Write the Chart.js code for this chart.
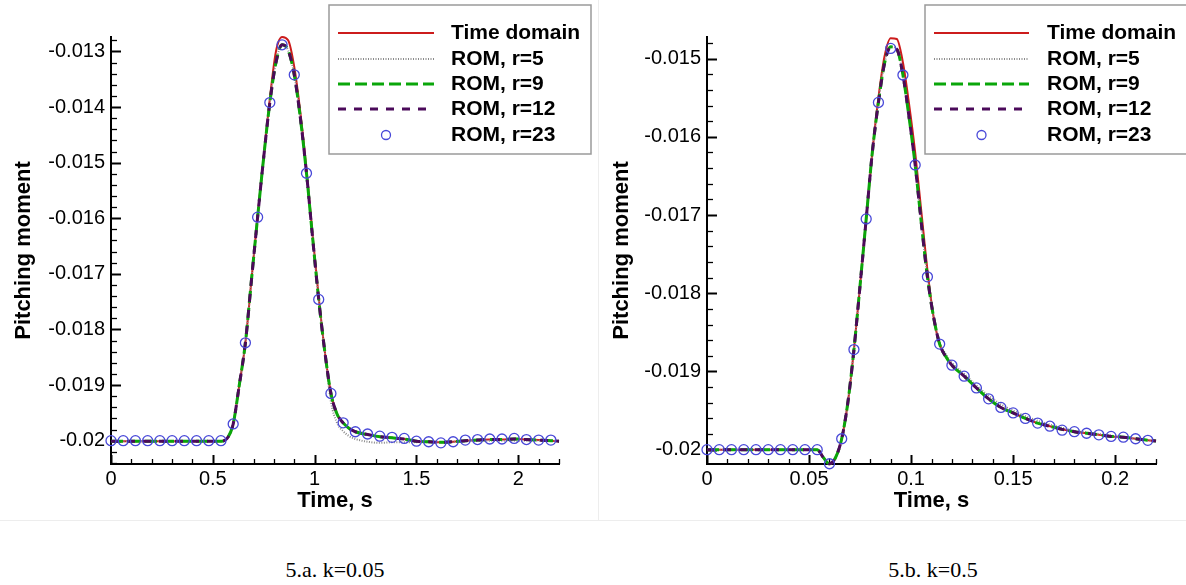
<!DOCTYPE html>
<html>
<head>
<meta charset="utf-8">
<script src="https://cdn.jsdelivr.net/npm/chart.js@4.4.1/dist/chart.umd.min.js"></script>
<style>
    html, body { margin: 0; padding: 0; background: #fff; }
    #page { position: relative; width: 1186px; height: 585px; overflow: hidden; }
    .panel { position: absolute; top: 0; height: 520px; }
    #pa { left: 0; width: 598px; }
    #pb { left: 598px; width: 588px; }
    .sep-v { position: absolute; left: 598px; top: 0; width: 1px; height: 521px; background: #ededed; }
    .sep-h { position: absolute; left: 0; top: 520px; width: 1186px; height: 1px; background: #ededed; }
    .cap { position: absolute; top: 559px; line-height: 22px; font-family: "Liberation Serif", "Times New Roman", serif;
           font-size: 22px; color: #000; transform: translateX(-50%); white-space: nowrap; }
</style>
</head>
<body>
<div id="page">
    <div class="panel" id="pa"><canvas id="chartA" width="598" height="520"></canvas></div>
    <div class="panel" id="pb"><canvas id="chartB" width="588" height="520"></canvas></div>
    <div class="sep-v"></div>
    <div class="sep-h"></div>
    <div class="cap" style="left:335px">5.a. k=0.05</div>
    <div class="cap" style="left:933px">5.b. k=0.5</div>
</div>
<script>
/* ---------- data ---------- */
const SERIES_LABELS = ["Time domain", "ROM, r=5", "ROM, r=9", "ROM, r=12", "ROM, r=23"];

// 5.a  k=0.05
const A_X_TICKS = [0, 0.5, 1, 1.5, 2];
const A_Y_TICKS = [-0.02, -0.019, -0.018, -0.017, -0.016, -0.015, -0.014, -0.013];
const A_T = [0, 0.3, 0.54, 0.57, 0.60, 0.63, 0.66, 0.69, 0.72, 0.75, 0.78, 0.81, 0.84, 0.87, 0.90, 0.93,
             0.96, 0.99, 1.02, 1.05, 1.08, 1.11, 1.14, 1.17, 1.20, 1.26, 1.32, 1.38, 1.44, 1.50, 1.56,
             1.62, 1.68, 1.74, 1.80, 1.86, 1.92, 1.98, 2.04, 2.10, 2.16, 2.2];
const A_TIME_DOMAIN = [-0.02001, -0.02001, -0.02001, -0.01996, -0.0197, -0.0190, -0.01824, -0.0171, -0.01596,
             -0.01488, -0.01385, -0.01300, -0.01274, -0.01280, -0.01328, -0.0141, -0.01512, -0.0163, -0.01742,
             -0.0184, -0.01915, -0.01952, -0.01968, -0.01978, -0.01984, -0.01989, -0.01993, -0.01995, -0.01997,
             -0.02001, -0.02002, -0.02003, -0.02002, -0.02, -0.01999, -0.01998, -0.01998, -0.01997, -0.01998,
             -0.01999, -0.02, -0.02001];
const A_ROM5 = [-0.02001, -0.02001, -0.02001, -0.01996, -0.0197, -0.0190, -0.01824, -0.0171, -0.01598,
             -0.0149, -0.01392, -0.01320, -0.01288, -0.01298, -0.01342, -0.0142, -0.01519, -0.01635, -0.01746,
             -0.0184, -0.0193, -0.01968, -0.01983, -0.01992, -0.01997, -0.02002, -0.02004, -0.02003, -0.02003,
             -0.02003, -0.02003, -0.02003, -0.02002, -0.02001, -0.02, -0.02, -0.02, -0.02, -0.02,
             -0.02, -0.02, -0.02001];
const A_ROM9_12 = [-0.02001, -0.02001, -0.02001, -0.01996, -0.0197, -0.0190, -0.01824, -0.0171, -0.01598,
             -0.0149, -0.01392, -0.01320, -0.01288, -0.01298, -0.01342, -0.0142, -0.01519, -0.01635, -0.01746,
             -0.0184, -0.01915, -0.01952, -0.01968, -0.01978, -0.01984, -0.01989, -0.01993, -0.01995, -0.01997,
             -0.02001, -0.02002, -0.02003, -0.02002, -0.02, -0.01999, -0.01998, -0.01998, -0.01997, -0.01998,
             -0.01999, -0.02, -0.02001];
const A_MARK_T = [0, 0.06, 0.12, 0.18, 0.24, 0.30, 0.36, 0.42, 0.48, 0.54, 0.60, 0.66, 0.72, 0.78, 0.84,
             0.90, 0.96, 1.02, 1.08, 1.14, 1.20, 1.26, 1.32, 1.38, 1.44, 1.50, 1.56, 1.62, 1.68, 1.74, 1.80,
             1.86, 1.92, 1.98, 2.04, 2.10, 2.16];
const A_ROM23 = [-0.02, -0.02, -0.02, -0.02, -0.02, -0.02, -0.02, -0.02, -0.02, -0.02, -0.0197, -0.01824,
             -0.01598, -0.01392, -0.01288, -0.01342, -0.01519, -0.01746, -0.01915, -0.01968, -0.01984, -0.01988,
             -0.01992, -0.01994, -0.01996, -0.02001, -0.02002, -0.02004, -0.02002, -0.01999, -0.01998, -0.01997,
             -0.01997, -0.01996, -0.01998, -0.01999, -0.01999];

// 5.b  k=0.5
const B_X_TICKS = [0, 0.05, 0.1, 0.15, 0.2];
const B_Y_TICKS = [-0.02, -0.019, -0.018, -0.017, -0.016, -0.015];
const B_T = [0, 0.03, 0.054, 0.057, 0.060, 0.063, 0.066, 0.069, 0.072, 0.075, 0.078, 0.081, 0.084, 0.087,
             0.090, 0.093, 0.096, 0.099, 0.102, 0.105, 0.108, 0.111, 0.114, 0.117, 0.120, 0.126, 0.132, 0.138,
             0.144, 0.150, 0.156, 0.162, 0.168, 0.174, 0.180, 0.186, 0.192, 0.198, 0.204, 0.210, 0.216, 0.22];
const B_TIME_DOMAIN = [-0.02, -0.02, -0.02, -0.0201, -0.02018, -0.0201, -0.01986, -0.0194, -0.01872, -0.0179,
             -0.01705, -0.0162, -0.0155, -0.01497, -0.01474, -0.01475, -0.01505, -0.01558, -0.0162, -0.01695,
             -0.0177, -0.0183, -0.01865, -0.01881, -0.01892, -0.01906, -0.01921, -0.01935, -0.01946, -0.01953,
             -0.0196, -0.01966, -0.0197, -0.01974, -0.01977, -0.01979, -0.01981, -0.01983, -0.01984, -0.01986,
             -0.01988, -0.01989];
const B_ROM5 = [-0.02, -0.02, -0.02, -0.0201, -0.02018, -0.0201, -0.01986, -0.0194, -0.01872, -0.0179,
             -0.01705, -0.0162, -0.01556, -0.01506, -0.01485, -0.01488, -0.01521, -0.01575, -0.01636, -0.0171,
             -0.01779, -0.0183, -0.01863, -0.01878, -0.01889, -0.01903, -0.01918, -0.01931, -0.01942, -0.0195,
             -0.01957, -0.01963, -0.01968, -0.01972, -0.01976, -0.01978, -0.0198, -0.01982, -0.01984, -0.01986,
             -0.01988, -0.01989];
const B_ROM9_12 = [-0.02, -0.02, -0.02, -0.0201, -0.02018, -0.0201, -0.01986, -0.0194, -0.01872, -0.0179,
             -0.01705, -0.0162, -0.01556, -0.01506, -0.01485, -0.01488, -0.01521, -0.01575, -0.01636, -0.0171,
             -0.01779, -0.0183, -0.01865, -0.01881, -0.01892, -0.01906, -0.01921, -0.01935, -0.01946, -0.01953,
             -0.0196, -0.01966, -0.0197, -0.01974, -0.01977, -0.01979, -0.01981, -0.01983, -0.01984, -0.01986,
             -0.01988, -0.01989];
const B_MARK_T = [0, 0.006, 0.012, 0.018, 0.024, 0.030, 0.036, 0.042, 0.048, 0.054, 0.060, 0.066, 0.072,
             0.078, 0.084, 0.090, 0.096, 0.102, 0.108, 0.114, 0.120, 0.126, 0.132, 0.138, 0.144, 0.150, 0.156,
             0.162, 0.168, 0.174, 0.180, 0.186, 0.192, 0.198, 0.204, 0.210, 0.216];
const B_ROM23 = [-0.02, -0.02, -0.02, -0.02, -0.02, -0.02, -0.02, -0.02, -0.02, -0.02, -0.02018, -0.01986,
             -0.01872, -0.01705, -0.01556, -0.01487, -0.01521, -0.01636, -0.01779, -0.01865, -0.01892, -0.01906,
             -0.01921, -0.01935, -0.01946, -0.01953, -0.0196, -0.01966, -0.0197, -0.01975, -0.01977, -0.01979,
             -0.01981, -0.01983, -0.01984, -0.01986, -0.01988];

/* ---------- helpers / plugins ---------- */
Chart.defaults.font.family = "'Liberation Sans', Arial, sans-serif";
Chart.defaults.color = "#000";

function zip(t, v) { return t.map(function (x, i) { return { x: x, y: v[i] }; }); }
function fmt(v) { return String(+v.toFixed(4)); }

// Tecplot-like ticks pointing into the plot
const innerTicks = {
    id: "innerTicks",
    beforeDatasetsDraw(chart, args, o) {
        const ctx = chart.ctx, a = chart.chartArea;
        const xs = chart.scales.x, ys = chart.scales.y;
        ctx.save();
        ctx.strokeStyle = "#000";
        let k0 = Math.ceil(xs.min / o.xStep - 1e-6), k1 = Math.floor(xs.max / o.xStep + 1e-6);
        for (let k = k0; k <= k1; k++) {
            const major = k % 5 === 0;
            const px = Math.round(xs.getPixelForValue(k * o.xStep)) + 0.5;
            ctx.lineWidth = major ? 2 : 1.3;
            ctx.beginPath();
            ctx.moveTo(px, a.bottom);
            ctx.lineTo(px, a.bottom - (major ? 9 : 5));
            ctx.stroke();
        }
        k0 = Math.ceil(ys.min / o.yStep - 1e-6); k1 = Math.floor(ys.max / o.yStep + 1e-6);
        for (let k = k0; k <= k1; k++) {
            const major = Math.abs(k % 5) === 0;
            const py = Math.round(ys.getPixelForValue(k * o.yStep)) + 0.5;
            ctx.lineWidth = major ? 2 : 1.3;
            ctx.beginPath();
            ctx.moveTo(a.left, py);
            ctx.lineTo(a.left + (major ? 10 : 6), py);
            ctx.stroke();
        }
        ctx.restore();
    }
};

// boxed legend in the upper right, drawn from the dataset styles
const boxLegend = {
    id: "boxLegend",
    afterDraw(chart, args, o) {
        const ctx = chart.ctx;
        ctx.save();
        ctx.fillStyle = "#fff";
        ctx.fillRect(o.x, o.y, o.w, o.h);
        ctx.strokeStyle = "#9a9a9a";
        ctx.lineWidth = 1.5;
        ctx.strokeRect(o.x, o.y, o.w, o.h);
        ctx.font = "bold 21px 'Liberation Sans', Arial, sans-serif";
        ctx.textBaseline = "middle";
        chart.data.datasets.forEach(function (ds, i) {
            const y = o.rows[i];
            ctx.beginPath();
            if (ds.showLine === false) {
                ctx.arc((o.s0 + o.s1) / 2, y, ds.pointRadius - 0.5, 0, Math.PI * 2);
                ctx.strokeStyle = ds.pointBorderColor;
                ctx.lineWidth = ds.pointBorderWidth;
            } else {
                ctx.setLineDash(ds.borderDash || []);
                ctx.moveTo(o.s0, y);
                ctx.lineTo(o.s1, y);
                ctx.strokeStyle = ds.borderColor;
                ctx.lineWidth = ds.borderWidth;
            }
            ctx.stroke();
            ctx.setLineDash([]);
            ctx.fillStyle = "#000";
            ctx.fillText(ds.label, o.tx, y);
        });
        ctx.restore();
    }
};

function lineSet(label, pts, color, width, dash, order) {
    return {
        label: label, data: pts, showLine: true, borderColor: color, borderWidth: width,
        borderDash: dash, pointRadius: 0, cubicInterpolationMode: "monotone", order: order, clip: false
    };
}

function buildChart(id, o) {
    return new Chart(document.getElementById(id), {
        type: "line",
        data: {
            datasets: [
                lineSet(SERIES_LABELS[0], zip(o.t, o.td), "#cc1c1c", 2, [], 5),
                lineSet(SERIES_LABELS[1], zip(o.t, o.r5), "#8a8a8a", 2, [1, 1.5], 4),
                lineSet(SERIES_LABELS[2], zip(o.t, o.r9), "#0aa60a", 3, [12, 5], 3),
                lineSet(SERIES_LABELS[3], zip(o.t, o.r12), "#4b0a5a", 3, [8, 8], 2),
                {
                    label: SERIES_LABELS[4], data: zip(o.mt, o.r23), showLine: false,
                    pointRadius: 5, pointStyle: "circle", pointBorderColor: "#4848d8",
                    pointBackgroundColor: "rgba(0,0,0,0)", pointBorderWidth: 1.3, order: 1, clip: false
                }
            ]
        },
        options: {
            responsive: false,
            animation: false,
            events: [],
            layout: { padding: { top: o.top, right: o.right, left: 0, bottom: 0 } },
            plugins: {
                legend: { display: false },
                tooltip: { enabled: false },
                innerTicks: { xStep: o.xStep, yStep: o.yStep },
                boxLegend: o.legend
            },
            scales: {
                x: {
                    type: "linear", min: o.xMin, max: o.xMax,
                    grid: { display: false, drawTicks: false },
                    border: { display: true, color: "#000", width: 2 },
                    ticks: { font: { size: 20 }, color: "#000", padding: 3, maxRotation: 0, callback: fmt },
                    afterBuildTicks: function (s) { s.ticks = o.xTicks.map(function (v) { return { value: v }; }); },
                    afterFit: function (s) { s.height = o.xAxisH; },
                    title: { display: true, text: "Time, s", color: "#000",
                             font: { size: 22, weight: "bold" }, padding: { top: 0, bottom: 6 } }
                },
                y: {
                    type: "linear", min: o.yMin, max: o.yMax,
                    grid: { display: false, drawTicks: false },
                    border: { display: true, color: "#000", width: 2 },
                    ticks: { font: { size: 20 }, color: "#000", padding: 6, callback: fmt },
                    afterBuildTicks: function (s) { s.ticks = o.yTicks.map(function (v) { return { value: v }; }); },
                    afterFit: function (s) { s.width = o.yAxisW; },
                    title: { display: true, text: "Pitching moment", color: "#000",
                             font: { size: 22, weight: "bold" }, padding: { top: 11, bottom: 0 } }
                }
            }
        },
        plugins: [innerTicks, boxLegend]
    });
}

buildChart("chartA", {
    t: A_T, td: A_TIME_DOMAIN, r5: A_ROM5, r9: A_ROM9_12, r12: A_ROM9_12, mt: A_MARK_T, r23: A_ROM23,
    xMin: 0, xMax: 2.2, yMin: -0.02042, yMax: -0.01274, xTicks: A_X_TICKS, yTicks: A_Y_TICKS,
    xStep: 0.1, yStep: 0.0002, top: 37, right: 39, xAxisH: 56, yAxisW: 111,
    legend: { x: 329, y: 5, w: 262, h: 149, s0: 338, s1: 434, tx: 451, rows: [33, 59, 84, 109, 135] }
});

buildChart("chartB", {
    t: B_T, td: B_TIME_DOMAIN, r5: B_ROM5, r9: B_ROM9_12, r12: B_ROM9_12, mt: B_MARK_T, r23: B_ROM23,
    xMin: 0, xMax: 0.22, yMin: -0.020183, yMax: -0.014724, xTicks: B_X_TICKS, yTicks: B_Y_TICKS,
    xStep: 0.01, yStep: 0.0002, top: 37, right: 30, xAxisH: 56, yAxisW: 109,
    legend: { x: 327, y: 5, w: 264, h: 149, s0: 336, s1: 431, tx: 449, rows: [33, 59, 84, 109, 135] }
});
</script>
</body>
</html>
